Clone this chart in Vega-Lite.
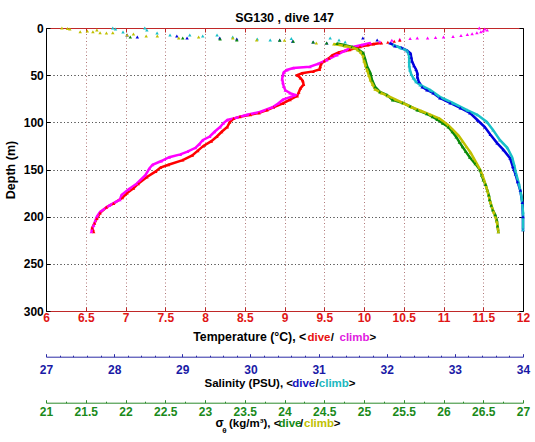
{
"$schema": "https://vega.github.io/schema/vega-lite/v6.json",
"width": 477, "height": 283,
"autosize": {"type": "none"},
"padding": {"left": 46, "top": 28, "right": 12, "bottom": 131},
"title": {"text": "SG130 , dive 147", "fontSize": 12.5, "fontWeight": "bold", "font": "Liberation Sans", "anchor": "middle", "offset": 3, "dy": 5, "color": "black"},
"datasets": {"pts": [
{"s":"Td","d":13,"v":10.45},{"s":"Td","d":14,"v":10.38},{"s":"Td","d":15,"v":10.3},{"s":"Td","d":16,"v":10.22},{"s":"Td","d":17,"v":10.12},{"s":"Td","d":18,"v":10.05},{"s":"Td","d":20,"v":9.95},{"s":"Td","d":23,"v":9.82},{"s":"Td","d":26,"v":9.68},{"s":"Td","d":29,"v":9.6},{"s":"Td","d":32,"v":9.56},{"s":"Td","d":35,"v":9.5},{"s":"Td","d":38,"v":9.46},{"s":"Td","d":41,"v":9.45},{"s":"Td","d":44,"v":9.44},{"s":"Td","d":46,"v":9.36},{"s":"Td","d":48,"v":9.22},{"s":"Td","d":50,"v":9.16},{"s":"Td","d":53,"v":9.2},{"s":"Td","d":56,"v":9.23},{"s":"Td","d":60,"v":9.24},{"s":"Td","d":64,"v":9.2},{"s":"Td","d":68,"v":9.18},{"s":"Td","d":72,"v":9.16},{"s":"Td","d":76,"v":9.07},{"s":"Td","d":80,"v":8.98},{"s":"Td","d":84,"v":8.86},{"s":"Td","d":87,"v":8.78},{"s":"Td","d":90,"v":8.68},{"s":"Td","d":92,"v":8.57},{"s":"Td","d":94,"v":8.44},{"s":"Td","d":96,"v":8.36},{"s":"Td","d":100,"v":8.31},{"s":"Td","d":105,"v":8.28},{"s":"Td","d":110,"v":8.21},{"s":"Td","d":115,"v":8.15},{"s":"Td","d":120,"v":8.08},{"s":"Td","d":125,"v":7.98},{"s":"Td","d":130,"v":7.91},{"s":"Td","d":135,"v":7.84},{"s":"Td","d":140,"v":7.72},{"s":"Td","d":145,"v":7.54},{"s":"Td","d":148,"v":7.44},{"s":"Td","d":152,"v":7.38},{"s":"Td","d":158,"v":7.27},{"s":"Td","d":165,"v":7.16},{"s":"Td","d":170,"v":7.1},{"s":"Td","d":175,"v":7.02},{"s":"Td","d":180,"v":6.96},{"s":"Td","d":186,"v":6.85},{"s":"Td","d":190,"v":6.76},{"s":"Td","d":196,"v":6.68},{"s":"Td","d":202,"v":6.64},{"s":"Td","d":207,"v":6.61},{"s":"Td","d":212,"v":6.58},{"s":"Td","d":216,"v":6.6},
{"s":"Tc","d":0,"v":11.45},{"s":"Tc","d":1,"v":11.52},{"s":"Tc","d":2,"v":11.55},{"s":"Tc","d":3,"v":11.5},{"s":"Tc","d":4,"v":11.47},{"s":"Tc","d":5,"v":11.42},{"s":"Tc","d":6,"v":11.36},{"s":"Tc","d":7,"v":11.3},{"s":"Tc","d":8,"v":11.22},{"s":"Tc","d":9,"v":11.12},{"s":"Tc","d":9.5,"v":11.0},{"s":"Tc","d":10,"v":10.9},{"s":"Tc","d":10.5,"v":10.8},{"s":"Tc","d":10.6,"v":10.67},{"s":"Tc","d":11,"v":10.58},{"s":"Tc","d":12,"v":10.45},{"s":"Tc","d":13,"v":10.35},{"s":"Tc","d":14.5,"v":10.2},{"s":"Tc","d":16,"v":10.08},{"s":"Tc","d":18,"v":9.97},{"s":"Tc","d":20,"v":9.86},{"s":"Tc","d":24,"v":9.76},{"s":"Tc","d":28.6,"v":9.66},{"s":"Tc","d":34,"v":9.53},{"s":"Tc","d":38,"v":9.42},{"s":"Tc","d":41,"v":9.32},{"s":"Tc","d":42.4,"v":9.11},{"s":"Tc","d":44.5,"v":9.03},{"s":"Tc","d":47,"v":8.99},{"s":"Tc","d":50,"v":8.98},{"s":"Tc","d":54,"v":8.97},{"s":"Tc","d":58,"v":8.98},{"s":"Tc","d":62,"v":8.99},{"s":"Tc","d":66,"v":9.01},{"s":"Tc","d":69,"v":9.07},{"s":"Tc","d":71,"v":9.14},{"s":"Tc","d":73,"v":9.08},{"s":"Tc","d":76,"v":8.98},{"s":"Tc","d":80,"v":8.92},{"s":"Tc","d":84,"v":8.85},{"s":"Tc","d":89,"v":8.69},{"s":"Tc","d":92,"v":8.53},{"s":"Tc","d":95,"v":8.4},{"s":"Tc","d":97.5,"v":8.28},{"s":"Tc","d":101,"v":8.23},{"s":"Tc","d":105,"v":8.19},{"s":"Tc","d":110,"v":8.12},{"s":"Tc","d":115,"v":8.06},{"s":"Tc","d":119,"v":7.97},{"s":"Tc","d":123,"v":7.93},{"s":"Tc","d":127,"v":7.88},{"s":"Tc","d":131,"v":7.78},{"s":"Tc","d":134,"v":7.69},{"s":"Tc","d":137,"v":7.55},{"s":"Tc","d":141,"v":7.45},{"s":"Tc","d":145,"v":7.34},{"s":"Tc","d":149,"v":7.3},{"s":"Tc","d":156,"v":7.25},{"s":"Tc","d":165,"v":7.14},{"s":"Tc","d":171,"v":7.04},{"s":"Tc","d":177,"v":6.95},{"s":"Tc","d":182,"v":6.93},{"s":"Tc","d":188,"v":6.8},{"s":"Tc","d":195,"v":6.68},{"s":"Tc","d":200,"v":6.64},{"s":"Tc","d":209,"v":6.6},{"s":"Tc","d":216,"v":6.57},
{"s":"Sd","d":7.4,"v":28.19},{"s":"Sd","d":9.5,"v":28.34},{"s":"Sd","d":8.5,"v":28.92},{"s":"Sd","d":10.6,"v":29.07},{"s":"Sd","d":10.6,"v":29.55},{"s":"Sd","d":11.7,"v":29.8},{"s":"Sd","d":12.7,"v":30.43},{"s":"Sd","d":14,"v":30.62},{"s":"Sd","d":14.8,"v":30.92},{"s":"Sd","d":15.9,"v":31.12},{"s":"Sd","d":10.6,"v":31.65},{"s":"Sd","d":12.7,"v":31.86},
{"s":"Sd","d":16,"v":32.05},{"s":"Sd","d":19,"v":32.12},{"s":"Sd","d":21,"v":32.22},{"s":"Sd","d":24,"v":32.3},{"s":"Sd","d":27,"v":32.35},{"s":"Sd","d":31,"v":32.36},{"s":"Sd","d":35,"v":32.37},{"s":"Sd","d":40,"v":32.4},{"s":"Sd","d":44,"v":32.43},{"s":"Sd","d":48,"v":32.45},{"s":"Sd","d":52,"v":32.45},{"s":"Sd","d":57,"v":32.47},{"s":"Sd","d":62.5,"v":32.52},{"s":"Sd","d":65.7,"v":32.59},{"s":"Sd","d":68.9,"v":32.68},{"s":"Sd","d":74.2,"v":32.78},{"s":"Sd","d":79.5,"v":32.93},{"s":"Sd","d":84.8,"v":33.08},{"s":"Sd","d":90,"v":33.22},{"s":"Sd","d":97.5,"v":33.33},{"s":"Sd","d":105,"v":33.44},{"s":"Sd","d":113,"v":33.52},{"s":"Sd","d":122,"v":33.62},{"s":"Sd","d":129,"v":33.71},{"s":"Sd","d":138,"v":33.81},{"s":"Sd","d":147,"v":33.85},{"s":"Sd","d":155,"v":33.89},{"s":"Sd","d":163,"v":33.92},{"s":"Sd","d":172,"v":33.96},{"s":"Sd","d":185,"v":33.99},{"s":"Sd","d":200,"v":34.0},{"s":"Sd","d":214,"v":34.0},
{"s":"Sc","d":0,"v":27.98},{"s":"Sc","d":1,"v":28.02},{"s":"Sc","d":4.2,"v":28.13},{"s":"Sc","d":0,"v":28.45},{"s":"Sc","d":2.1,"v":28.48},{"s":"Sc","d":5.3,"v":28.63},{"s":"Sc","d":7.4,"v":28.82},{"s":"Sc","d":7.4,"v":29.11},{"s":"Sc","d":8.5,"v":29.3},{"s":"Sc","d":7.4,"v":29.51},{"s":"Sc","d":9.5,"v":29.74},{"s":"Sc","d":11.7,"v":30.1},{"s":"Sc","d":12.7,"v":30.29},{"s":"Sc","d":11,"v":30.6},{"s":"Sc","d":10.6,"v":31.17},{"s":"Sc","d":12.7,"v":31.3},{"s":"Sc","d":14.8,"v":31.39},
{"s":"Sc","d":18,"v":32.1},{"s":"Sc","d":21,"v":32.2},{"s":"Sc","d":24,"v":32.3},{"s":"Sc","d":30,"v":32.33},{"s":"Sc","d":35,"v":32.33},{"s":"Sc","d":40,"v":32.33},{"s":"Sc","d":44.5,"v":32.34},{"s":"Sc","d":49,"v":32.36},{"s":"Sc","d":53,"v":32.39},{"s":"Sc","d":57,"v":32.43},{"s":"Sc","d":60.4,"v":32.49},{"s":"Sc","d":65.7,"v":32.64},{"s":"Sc","d":73,"v":32.78},{"s":"Sc","d":79.5,"v":32.97},{"s":"Sc","d":87,"v":33.18},{"s":"Sc","d":92,"v":33.33},{"s":"Sc","d":99.6,"v":33.47},{"s":"Sc","d":108,"v":33.56},{"s":"Sc","d":118.7,"v":33.66},{"s":"Sc","d":127,"v":33.77},{"s":"Sc","d":137,"v":33.84},{"s":"Sc","d":145,"v":33.87},{"s":"Sc","d":155,"v":33.9},{"s":"Sc","d":165,"v":33.94},{"s":"Sc","d":180,"v":33.98},{"s":"Sc","d":195,"v":34.0},{"s":"Sc","d":214,"v":34.0},
{"s":"Dd","d":9.5,"v":22.06},{"s":"Dd","d":10.6,"v":22.72},{"s":"Dd","d":11.7,"v":23.19},{"s":"Dd","d":12.7,"v":23.4},{"s":"Dd","d":13,"v":23.94},{"s":"Dd","d":14,"v":24.11},{"s":"Dd","d":14.8,"v":24.36},{"s":"Dd","d":15.9,"v":24.53},
{"s":"Dd","d":16.5,"v":24.66},{"s":"Dd","d":18,"v":24.75},{"s":"Dd","d":20,"v":24.85},{"s":"Dd","d":23,"v":24.93},{"s":"Dd","d":26.5,"v":24.99},{"s":"Dd","d":31.8,"v":25.01},{"s":"Dd","d":41,"v":25.04},{"s":"Dd","d":47.7,"v":25.08},{"s":"Dd","d":55,"v":25.1},{"s":"Dd","d":62.5,"v":25.14},{"s":"Dd","d":67.8,"v":25.2},{"s":"Dd","d":71,"v":25.29},{"s":"Dd","d":76.3,"v":25.36},{"s":"Dd","d":79.5,"v":25.49},{"s":"Dd","d":83,"v":25.58},{"s":"Dd","d":87,"v":25.67},{"s":"Dd","d":91,"v":25.79},{"s":"Dd","d":94,"v":25.86},{"s":"Dd","d":97,"v":25.92},{"s":"Dd","d":101,"v":25.99},{"s":"Dd","d":105,"v":26.06},{"s":"Dd","d":110,"v":26.11},{"s":"Dd","d":115.5,"v":26.16},{"s":"Dd","d":121,"v":26.2},{"s":"Dd","d":126,"v":26.24},{"s":"Dd","d":131,"v":26.28},{"s":"Dd","d":137,"v":26.33},{"s":"Dd","d":144,"v":26.4},{"s":"Dd","d":150.5,"v":26.46},{"s":"Dd","d":156,"v":26.48},{"s":"Dd","d":161,"v":26.5},{"s":"Dd","d":166,"v":26.53},{"s":"Dd","d":172,"v":26.55},{"s":"Dd","d":177,"v":26.57},{"s":"Dd","d":182,"v":26.58},{"s":"Dd","d":188,"v":26.6},{"s":"Dd","d":193,"v":26.62},{"s":"Dd","d":198,"v":26.65},{"s":"Dd","d":203.5,"v":26.67},{"s":"Dd","d":210,"v":26.68},{"s":"Dd","d":216,"v":26.69},
{"s":"Dc","d":0,"v":21.2},{"s":"Dc","d":0.5,"v":21.27},{"s":"Dc","d":1,"v":21.3},{"s":"Dc","d":4,"v":21.43},{"s":"Dc","d":3.2,"v":21.52},{"s":"Dc","d":4,"v":21.59},{"s":"Dc","d":2,"v":21.64},{"s":"Dc","d":5,"v":21.68},{"s":"Dc","d":5.3,"v":21.76},{"s":"Dc","d":5,"v":21.84},{"s":"Dc","d":7.4,"v":22.02},{"s":"Dc","d":6.4,"v":22.1},{"s":"Dc","d":8.5,"v":22.26},{"s":"Dc","d":8.5,"v":22.4},{"s":"Dc","d":10.6,"v":22.67},{"s":"Dc","d":9.5,"v":22.92},{"s":"Dc","d":10.6,"v":23.35},{"s":"Dc","d":12.7,"v":23.65},{"s":"Dc","d":13,"v":24.0},{"s":"Dc","d":15.9,"v":24.4},
{"s":"Dc","d":17,"v":24.62},{"s":"Dc","d":19,"v":24.76},{"s":"Dc","d":21,"v":24.86},{"s":"Dc","d":23,"v":24.92},{"s":"Dc","d":26,"v":24.96},{"s":"Dc","d":30,"v":24.99},{"s":"Dc","d":35,"v":25.0},{"s":"Dc","d":40,"v":25.02},{"s":"Dc","d":45,"v":25.04},{"s":"Dc","d":50,"v":25.06},{"s":"Dc","d":55,"v":25.08},{"s":"Dc","d":60,"v":25.11},{"s":"Dc","d":65,"v":25.14},{"s":"Dc","d":69,"v":25.22},{"s":"Dc","d":72,"v":25.3},{"s":"Dc","d":76,"v":25.4},{"s":"Dc","d":80,"v":25.5},{"s":"Dc","d":84,"v":25.6},{"s":"Dc","d":88,"v":25.72},{"s":"Dc","d":92,"v":25.84},{"s":"Dc","d":96,"v":25.95},{"s":"Dc","d":99,"v":26.0},{"s":"Dc","d":103,"v":26.06},{"s":"Dc","d":108,"v":26.12},{"s":"Dc","d":114,"v":26.19},{"s":"Dc","d":120,"v":26.24},{"s":"Dc","d":126,"v":26.29},{"s":"Dc","d":132,"v":26.34},{"s":"Dc","d":138,"v":26.38},{"s":"Dc","d":144,"v":26.42},{"s":"Dc","d":150,"v":26.46},{"s":"Dc","d":156,"v":26.49},{"s":"Dc","d":161,"v":26.51},{"s":"Dc","d":172,"v":26.55},{"s":"Dc","d":185,"v":26.59},{"s":"Dc","d":195,"v":26.63},{"s":"Dc","d":205,"v":26.67},{"s":"Dc","d":216,"v":26.69}
]},
"layer": [
{"data": {"name": "pts"},
 "transform": [{"filter": "datum.s == 'Td' || datum.s == 'Tc'"}],
 "encoding": {
  "x": {"field": "v", "type": "quantitative", "scale": {"domain": [6, 12], "nice": false, "zero": false},
   "axis": {"orient": "bottom", "values": [6,6.5,7,7.5,8,8.5,9,9.5,10,10.5,11,11.5,12], "format": "~g", "labelColor": "#e01515", "domainColor": "#c02828", "tickColor": "#c02828", "tickSize": -4, "labelPadding": 5.4, "grid": true, "gridColor": "#b07878", "gridOpacity": 1, "gridWidth": 1, "gridDash": [1, 2.5], "title": "Temperature (°C), <", "titleFontSize": 12.3, "titleX": 146.7, "titleY": 29.7, "titleAnchor": "start", "titleAlign": "left", "titleBaseline": "alphabetic"}},
  "y": {"field": "d", "type": "quantitative", "scale": {"domain": [0, 300], "reverse": true, "nice": false, "zero": false},
   "axis": {"orient": "left", "values": [0,50,100,150,200,250,300], "format": "d", "labelColor": "black", "domainColor": "black", "tickColor": "black", "tickSize": -4, "labelPadding": 6.7, "grid": true, "gridColor": "#555555", "gridOpacity": 1, "gridWidth": 1, "gridDash": [1, 2.5], "title": "Depth (m)", "titleFontSize": 12.5, "titleX": -32, "titleY": 141.5, "titleAngle": 270, "titleAlign": "center", "titleBaseline": "alphabetic"}},
  "color": {"field": "s", "type": "nominal", "scale": {"domain": ["Td","Tc","Sd","Sc","Dd","Dc"], "range": ["#ff0000","#ff00ff","#0000dd","#19c0c8","#0a8a0a","#c0c000"]}, "legend": null},
  "order": {"field": "d", "type": "quantitative"}
 },
 "layer": [
  {"transform": [{"filter": "datum.d >= 16"}], "mark": {"type": "line", "strokeWidth": 2.5}},
  {"mark": {"type": "point", "shape": "triangle-up", "filled": true, "size": 12, "opacity": 1}}
 ]
},
{"data": {"name": "pts"},
 "transform": [{"filter": "datum.s == 'Sd' || datum.s == 'Sc'"}],
 "encoding": {
  "x": {"field": "v", "type": "quantitative", "scale": {"domain": [27, 34], "nice": false, "zero": false},
   "axis": {"orient": "bottom", "offset": 45.7, "values": [27,28,29,30,31,32,33,34], "format": "d", "labelColor": "#1a1aa6", "domainColor": "#2a2aa6", "tickColor": "#2a2aa6", "tickSize": -3, "labelPadding": 11.1, "grid": false, "title": "Salinity (PSU), <", "titleX": 158, "titleY": 30, "titleAnchor": "start", "titleAlign": "left", "titleBaseline": "alphabetic"}},
  "y": {"field": "d", "type": "quantitative", "scale": {"domain": [0, 300], "reverse": true, "nice": false, "zero": false}, "axis": null},
  "color": {"field": "s", "type": "nominal", "scale": {"domain": ["Td","Tc","Sd","Sc","Dd","Dc"], "range": ["#ff0000","#ff00ff","#0000dd","#19c0c8","#0a8a0a","#c0c000"]}, "legend": null},
  "order": {"field": "d", "type": "quantitative"}
 },
 "layer": [
  {"transform": [{"filter": "datum.d >= 16"}], "mark": {"type": "line", "strokeWidth": 2.5}},
  {"mark": {"type": "point", "shape": "triangle-up", "filled": true, "size": 12, "opacity": 1}}
 ]
},
{"data": {"name": "pts"},
 "transform": [{"filter": "datum.s == 'Dd' || datum.s == 'Dc'"}],
 "encoding": {
  "x": {"field": "v", "type": "quantitative", "scale": {"domain": [21, 27], "nice": false, "zero": false},
   "axis": {"orient": "bottom", "offset": 91.7, "values": [21,21.5,22,22.5,23,23.5,24,24.5,25,25.5,26,26.5,27], "format": "~g", "labelColor": "#1a8a1a", "domainColor": "#2a8a2a", "tickColor": "#2a8a2a", "tickSize": -3, "labelPadding": 6.4, "grid": false, "title": "σ", "titleFontSize": 12, "titleX": 169, "titleY": 24, "titleAnchor": "start", "titleAlign": "left", "titleBaseline": "alphabetic"}},
  "y": {"field": "d", "type": "quantitative", "scale": {"domain": [0, 300], "reverse": true, "nice": false, "zero": false}, "axis": null},
  "color": {"field": "s", "type": "nominal", "scale": {"domain": ["Td","Tc","Sd","Sc","Dd","Dc"], "range": ["#ff0000","#ff00ff","#0000dd","#19c0c8","#0a8a0a","#c0c000"]}, "legend": null},
  "order": {"field": "d", "type": "quantitative"}
 },
 "layer": [
  {"transform": [{"filter": "datum.d >= 16"}], "mark": {"type": "line", "strokeWidth": 2.5}},
  {"mark": {"type": "point", "shape": "triangle-up", "filled": true, "size": 12, "opacity": 1}}
 ]
},
{"data": {"values": [{}]}, "mark": {"type": "point", "opacity": 0},
 "encoding": {
  "x": {"datum": 6, "type": "quantitative", "scale": {"domain": [6, 12], "nice": false, "zero": false},
   "axis": {"orient": "top", "values": [6,6.5,7,7.5,8,8.5,9,9.5,10,10.5,11,11.5,12], "labels": false, "grid": false, "domainColor": "#c02828", "tickColor": "#c02828", "tickSize": -4, "title": null}},
  "y": {"datum": 0, "type": "quantitative", "scale": {"domain": [0, 300], "reverse": true, "nice": false, "zero": false},
   "axis": {"orient": "right", "values": [0,50,100,150,200,250,300], "labels": false, "grid": true, "gridColor": "#555555", "gridOpacity": 1, "gridWidth": 1, "gridDash": [1, 2.5], "domainColor": "black", "tickColor": "black", "tickSize": -4, "title": null}}
 }
},
{"data": {"values": [{}]}, "mark": {"type": "point", "opacity": 0},
 "encoding": {"x": {"datum": 27, "type": "quantitative", "scale": {"domain": [27, 34], "nice": false, "zero": false},
  "axis": {"orient": "bottom", "offset": 45.7, "values": [27.2,27.4,27.6,27.8,28.2,28.4,28.6,28.8,29.2,29.4,29.6,29.8,30.2,30.4,30.6,30.8,31.2,31.4,31.6,31.8,32.2,32.4,32.6,32.8,33.2,33.4,33.6,33.8], "labels": false, "domain": false, "grid": false, "tickColor": "#2a2aa6", "tickSize": -1.5, "title": "dive", "titleColor": "#1515c0", "titleX": 245.7, "titleY": 30, "titleAnchor": "start", "titleAlign": "left", "titleBaseline": "alphabetic"}}}
},
{"data": {"values": [{}]}, "mark": {"type": "point", "opacity": 0},
 "encoding": {"x": {"datum": 21, "type": "quantitative", "scale": {"domain": [21, 27], "nice": false, "zero": false},
  "axis": {"orient": "bottom", "offset": 91.7, "values": [21.25,21.75,22.25,22.75,23.25,23.75,24.25,24.75,25.25,25.75,26.25,26.75], "labels": false, "domain": false, "grid": false, "tickColor": "#2a8a2a", "tickSize": -1.5, "title": "dive", "titleColor": "#158a15", "titleX": 232, "titleY": 24, "titleAnchor": "start", "titleAlign": "left", "titleBaseline": "alphabetic"}}}
},
{"data": {"values": [{}]}, "mark": {"type": "point", "opacity": 0},
 "encoding": {"x": {"datum": 0, "type": "quantitative", "scale": {"domain": [0, 1]},
  "axis": {"orient": "bottom", "offset": 0, "domain": false, "ticks": false, "labels": false, "grid": false, "title": "dive", "titleColor": "#e81010", "titleX": 261, "titleY": 29.7, "titleAnchor": "start", "titleAlign": "left", "titleBaseline": "alphabetic"}}}
},
{"data": {"values": [{}]}, "mark": {"type": "point", "opacity": 0},
 "encoding": {"x": {"datum": 0, "type": "quantitative", "scale": {"domain": [0, 1]},
  "axis": {"orient": "bottom", "offset": 0, "domain": false, "ticks": false, "labels": false, "grid": false, "title": "/", "titleX": 284.2, "titleY": 29.7, "titleAnchor": "start", "titleAlign": "left", "titleBaseline": "alphabetic"}}}
},
{"data": {"values": [{}]}, "mark": {"type": "point", "opacity": 0},
 "encoding": {"x": {"datum": 0, "type": "quantitative", "scale": {"domain": [0, 1]},
  "axis": {"orient": "bottom", "offset": 0, "domain": false, "ticks": false, "labels": false, "grid": false, "title": "climb", "titleColor": "#e020e0", "titleX": 293, "titleY": 29.7, "titleAnchor": "start", "titleAlign": "left", "titleBaseline": "alphabetic"}}}
},
{"data": {"values": [{}]}, "mark": {"type": "point", "opacity": 0},
 "encoding": {"x": {"datum": 0, "type": "quantitative", "scale": {"domain": [0, 1]},
  "axis": {"orient": "bottom", "offset": 0, "domain": false, "ticks": false, "labels": false, "grid": false, "title": ">", "titleX": 323, "titleY": 29.7, "titleAnchor": "start", "titleAlign": "left", "titleBaseline": "alphabetic"}}}
},
{"data": {"values": [{}]}, "mark": {"type": "point", "opacity": 0},
 "encoding": {"x": {"datum": 0, "type": "quantitative", "scale": {"domain": [0, 1]},
  "axis": {"orient": "bottom", "offset": 45.7, "domain": false, "ticks": false, "labels": false, "grid": false, "title": "/", "titleX": 269, "titleY": 30, "titleAnchor": "start", "titleAlign": "left", "titleBaseline": "alphabetic"}}}
},
{"data": {"values": [{}]}, "mark": {"type": "point", "opacity": 0},
 "encoding": {"x": {"datum": 0, "type": "quantitative", "scale": {"domain": [0, 1]},
  "axis": {"orient": "bottom", "offset": 45.7, "domain": false, "ticks": false, "labels": false, "grid": false, "title": "climb", "titleColor": "#20b8c0", "titleX": 272.3, "titleY": 30, "titleAnchor": "start", "titleAlign": "left", "titleBaseline": "alphabetic"}}}
},
{"data": {"values": [{}]}, "mark": {"type": "point", "opacity": 0},
 "encoding": {"x": {"datum": 0, "type": "quantitative", "scale": {"domain": [0, 1]},
  "axis": {"orient": "bottom", "offset": 45.7, "domain": false, "ticks": false, "labels": false, "grid": false, "title": ">", "titleX": 302.3, "titleY": 30, "titleAnchor": "start", "titleAlign": "left", "titleBaseline": "alphabetic"}}}
},
{"data": {"values": [{}]}, "mark": {"type": "point", "opacity": 0},
 "encoding": {"x": {"datum": 0, "type": "quantitative", "scale": {"domain": [0, 1]},
  "axis": {"orient": "bottom", "offset": 91.7, "domain": false, "ticks": false, "labels": false, "grid": false, "title": "θ", "titleFontSize": 8, "titleX": 175.7, "titleY": 29.5, "titleAnchor": "start", "titleAlign": "left", "titleBaseline": "alphabetic"}}}
},
{"data": {"values": [{}]}, "mark": {"type": "point", "opacity": 0},
 "encoding": {"x": {"datum": 0, "type": "quantitative", "scale": {"domain": [0, 1]},
  "axis": {"orient": "bottom", "offset": 91.7, "domain": false, "ticks": false, "labels": false, "grid": false, "title": "(kg/m³), <", "titleX": 182.5, "titleY": 24, "titleAnchor": "start", "titleAlign": "left", "titleBaseline": "alphabetic"}}}
},
{"data": {"values": [{}]}, "mark": {"type": "point", "opacity": 0},
 "encoding": {"x": {"datum": 0, "type": "quantitative", "scale": {"domain": [0, 1]},
  "axis": {"orient": "bottom", "offset": 91.7, "domain": false, "ticks": false, "labels": false, "grid": false, "title": "/", "titleX": 253.5, "titleY": 24, "titleAnchor": "start", "titleAlign": "left", "titleBaseline": "alphabetic"}}}
},
{"data": {"values": [{}]}, "mark": {"type": "point", "opacity": 0},
 "encoding": {"x": {"datum": 0, "type": "quantitative", "scale": {"domain": [0, 1]},
  "axis": {"orient": "bottom", "offset": 91.7, "domain": false, "ticks": false, "labels": false, "grid": false, "title": "climb", "titleColor": "#c0c000", "titleX": 257.5, "titleY": 24, "titleAnchor": "start", "titleAlign": "left", "titleBaseline": "alphabetic"}}}
},
{"data": {"values": [{}]}, "mark": {"type": "point", "opacity": 0},
 "encoding": {"x": {"datum": 0, "type": "quantitative", "scale": {"domain": [0, 1]},
  "axis": {"orient": "bottom", "offset": 91.7, "domain": false, "ticks": false, "labels": false, "grid": false, "title": ">", "titleX": 287.3, "titleY": 24, "titleAnchor": "start", "titleAlign": "left", "titleBaseline": "alphabetic"}}}
}
],
"resolve": {"scale": {"x": "independent"}, "axis": {"x": "independent", "y": "independent"}},
"config": {
 "font": "Liberation Sans",
 "view": {"stroke": null},
 "axis": {"labelFont": "Liberation Sans", "labelFontSize": 12, "labelFontWeight": "bold", "titleFont": "Liberation Sans", "titleFontWeight": "bold", "titleFontSize": 11.5, "titleColor": "black", "labelFlush": false, "labelOverlap": false, "domainWidth": 1, "tickWidth": 1}
}
}
